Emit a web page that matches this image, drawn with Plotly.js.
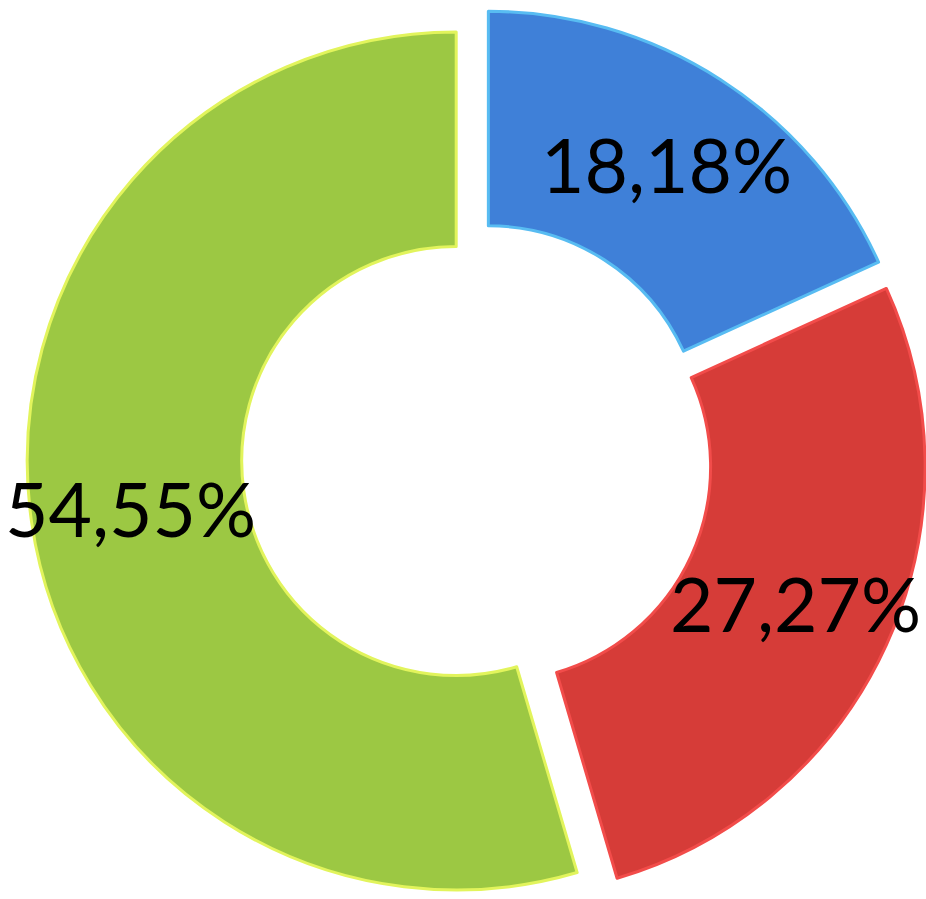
<!DOCTYPE html>
<html>
<head>
<meta charset="utf-8">
<script src="https://cdn.plot.ly/plotly-3.0.1.min.js"></script>
<style>
  html, body { margin: 0; padding: 0; overflow: hidden; background: #ffffff; }
  #chart { position: absolute; left: 0; top: 0; }
</style>
</head>
<body>
<div id="chart"></div>
<script>
// ---- data ----
const categories = ['Serie 1', 'Serie 2', 'Serie 3'];
const values = [18.18, 27.27, 54.55];
const textLabels = ['18,18%', '27,27%', '54,55%'];

// ---- styles ----
const fillColors = ['#3f80d8', '#d63c38', '#9cc843'];
const lineColors = ['#58bcf2', '#f24c4a', '#e2f45c'];

const W = 930, H = 920;
const dom = { x: [27 / W, 927 / W], y: [1 - 908 / H, 1 - 8 / H] };
const labelRadiusPx = 350;

const total = values.reduce((a, b) => a + b, 0);
const xc = (dom.x[0] + dom.x[1]) / 2;
const yc = (dom.y[0] + dom.y[1]) / 2;
let cum = 0;
const annotations = values.map((v, i) => {
  const mid = (cum + v / 2) / total * 2 * Math.PI;
  cum += v;
  return {
    xref: 'paper', yref: 'paper',
    x: xc + labelRadiusPx * Math.sin(mid) / W,
    y: yc + labelRadiusPx * Math.cos(mid) / H,
    xanchor: 'center', yanchor: 'middle',
    text: textLabels[i],
    showarrow: false,
    font: { family: 'Lato, "Open Sans", sans-serif', size: 75, color: '#000000' }
  };
});

const trace = {
  type: 'pie',
  labels: categories,
  values: values,
  sort: false,
  direction: 'clockwise',
  rotation: 0,
  hole: 0.5,
  pull: 0.049,
  domain: dom,
  marker: { colors: fillColors, line: { color: lineColors, width: 3 } },
  textinfo: 'none',
  hoverinfo: 'none'
};

const layout = {
  width: W, height: H,
  margin: { l: 0, r: 0, t: 0, b: 0 },
  showlegend: false,
  paper_bgcolor: '#ffffff',
  plot_bgcolor: '#ffffff',
  annotations: annotations
};

Plotly.newPlot('chart', [trace], layout, { displayModeBar: false, staticPlot: true });
</script>
</body>
</html>
